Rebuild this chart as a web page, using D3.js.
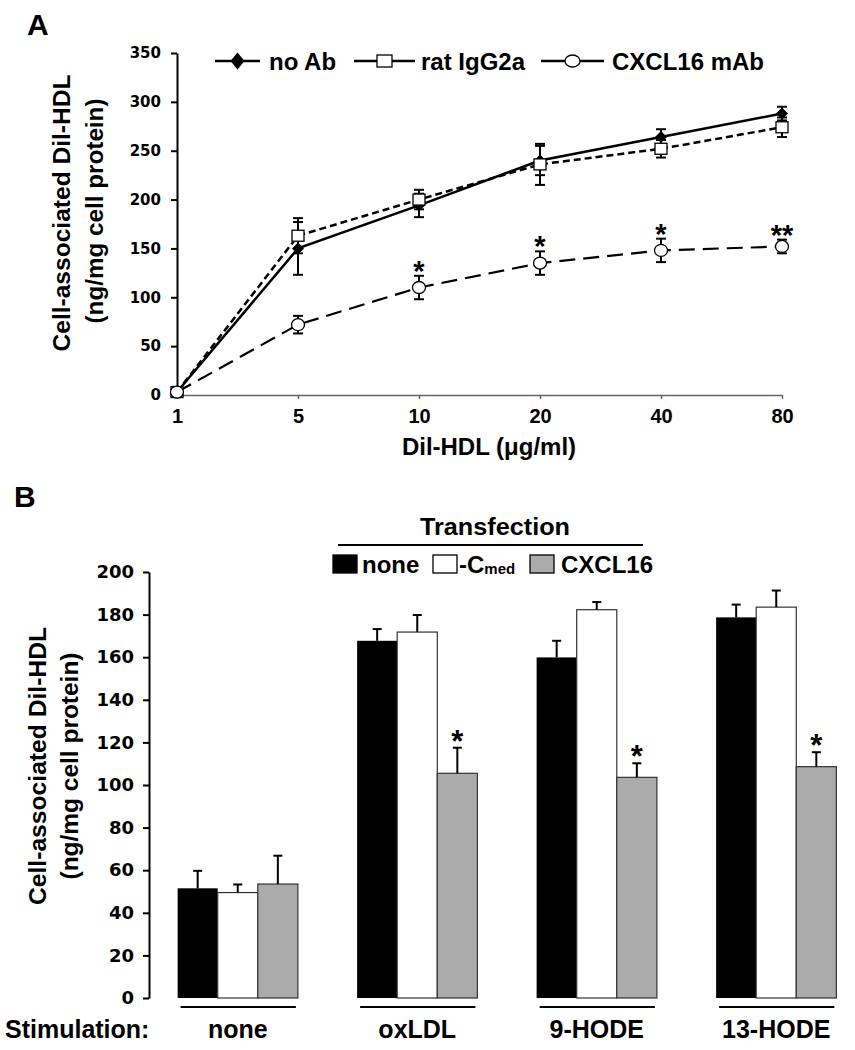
<!DOCTYPE html>
<html><head><meta charset="utf-8">
<script src="https://cdn.jsdelivr.net/npm/d3@7"></script>
<style>
body{margin:0;background:#fff;}
svg{display:block;}
text{font-family:"Liberation Sans",Arial,sans-serif;font-weight:bold;fill:#000;}
</style></head><body>
<svg id="c" width="855" height="1050"></svg>
<script>
// ---------- Panel A data ----------
const doses = ["1","5","10","20","40","80"];
const noAb = [3,150,194,240,264,288];
const noAbErr = [2,27,12,15,8,7];
const ratIgG = [3,163,200,236,252,274];
const ratIgGErr = [2,18,10,21,9,10];
const cxclAb = [3,72,110,135,148,152];
const cxclAbErr = [2,9,12,12,12,7];
const cxclSig = ["","","*","*","*","**"];
const yTicksA = [0,50,100,150,200,250,300,350];
const seriesA = ["no Ab","rat IgG2a","CXCL16 mAb"];

// ---------- Panel B data ----------
const stim = ["none","oxLDL","9-HODE","13-HODE"];
const transf = ["none","-C","CXCL16"];
const bNone = [51.5,167.7,159.9,178.7];
const bNoneErr = [8.2,5.5,7.8,6.0];
const bCmed = [49.5,171.8,182.3,183.5];
const bCmedErr = [3.8,8.0,3.6,7.8];
const bCx = [53.5,105.5,103.6,108.6];
const bCxErr = [13.3,12.0,6.6,6.8];
const bSig = ["","*","*","*"];
const yTicksB = [0,20,40,60,80,100,120,140,160,180,200];

const svg = d3.select("#c");
svg.append("rect").attr("width",855).attr("height",1050).attr("fill","#fff");

// ================= PANEL A =================
const gA = svg.append("g");
gA.append("text").attr("x",27).attr("y",35).attr("font-size",30).text("A");

const xA = d3.scalePoint().domain(doses).range([177,782]).padding(0);
const yA = d3.scaleLinear().domain([0,350]).range([395,53]);

const yAxA = gA.append("g").attr("transform","translate(177,0)")
  .call(d3.axisLeft(yA).tickValues(yTicksA).tickSize(6).tickSizeOuter(0).tickPadding(10));
yAxA.select(".domain").attr("stroke","#000").attr("stroke-width",2);
yAxA.selectAll(".tick line").attr("stroke","#000").attr("stroke-width",2);
yAxA.selectAll(".tick text").style("font-family","'DejaVu Sans',sans-serif").style("font-weight","bold").attr("font-size",15).attr("fill","#000");

const xAxA = gA.append("g").attr("transform","translate(0,395)")
  .call(d3.axisBottom(xA).tickSize(4).tickSizeOuter(0).tickPadding(10));
xAxA.select(".domain").attr("stroke","#666").attr("stroke-width",1.5);
xAxA.selectAll(".tick line").attr("stroke","#666").attr("stroke-width",1.5);
xAxA.selectAll(".tick text").attr("font-size",20).attr("fill","#000");

gA.append("text").attr("x",489).attr("y",455).attr("text-anchor","middle").attr("font-size",24).text("Dil-HDL (\u03bcg/ml)");
gA.append("text").attr("transform","translate(70,213) rotate(-90)").attr("text-anchor","middle")
  .attr("font-size",23).attr("textLength",277).attr("lengthAdjust","spacingAndGlyphs").text("Cell-associated Dil-HDL");
gA.append("text").attr("transform","translate(103,211) rotate(-90)").attr("text-anchor","middle")
  .attr("font-size",23).attr("textLength",225).attr("lengthAdjust","spacingAndGlyphs").text("(ng/mg cell protein)");

const lineA = d3.line().x((d,i)=>xA(doses[i])).y(d=>yA(d));
gA.append("path").datum(cxclAb).attr("d",lineA).attr("fill","none").attr("stroke","#000").attr("stroke-width",2.2).attr("stroke-dasharray","16,8");
gA.append("path").datum(ratIgG).attr("d",lineA).attr("fill","none").attr("stroke","#000").attr("stroke-width",2.5).attr("stroke-dasharray","7,4");
gA.append("path").datum(noAb).attr("d",lineA).attr("fill","none").attr("stroke","#000").attr("stroke-width",2.5);

function errA(vals, errs){
  const g = gA.append("g").attr("stroke","#000").attr("stroke-width",2);
  vals.forEach((v,i)=>{
    const x = xA(doses[i]);
    g.append("line").attr("x1",x).attr("x2",x).attr("y1",yA(v-errs[i])).attr("y2",yA(v+errs[i]));
    g.append("line").attr("x1",x-5).attr("x2",x+5).attr("y1",yA(v+errs[i])).attr("y2",yA(v+errs[i]));
    g.append("line").attr("x1",x-5).attr("x2",x+5).attr("y1",yA(v-errs[i])).attr("y2",yA(v-errs[i]));
  });
}
errA(noAb,noAbErr); errA(ratIgG,ratIgGErr); errA(cxclAb,cxclAbErr);

const diamond = (cx,cy,w,h)=>`M${cx},${cy-h/2}L${cx+w/2},${cy}L${cx},${cy+h/2}L${cx-w/2},${cy}Z`;
gA.append("g").selectAll("path").data(noAb).join("path")
  .attr("d",(d,i)=>diamond(xA(doses[i]),yA(d),12,12)).attr("fill","#000");
gA.append("g").selectAll("rect").data(ratIgG).join("rect")
  .attr("x",(d,i)=>xA(doses[i])-6).attr("y",d=>yA(d)-5.5).attr("width",12).attr("height",11)
  .attr("fill","#fff").attr("stroke","#000").attr("stroke-width",1.3);
gA.append("g").selectAll("ellipse").data(cxclAb).join("ellipse")
  .attr("cx",(d,i)=>xA(doses[i])).attr("cy",d=>yA(d)).attr("rx",6.5).attr("ry",6)
  .attr("fill","#fff").attr("stroke","#000").attr("stroke-width",1.3);

gA.append("g").selectAll("text").data(cxclSig).join("text")
  .attr("x",(d,i)=>xA(doses[i])).attr("y",(d,i)=>yA(cxclAb[i]+cxclAbErr[i])+5)
  .attr("text-anchor","middle").attr("font-size",29).text(d=>d);

const legA = gA.append("g");
const legItems = [
  {x1:215,x2:260,label:seriesA[0],tx:269,m:"d"},
  {x1:354,x2:415,label:seriesA[1],tx:421,m:"s"},
  {x1:541,x2:604,label:seriesA[2],tx:612,m:"c"}
];
legItems.forEach(it=>{
  const cy=61, cx=(it.x1+it.x2)/2;
  legA.append("line").attr("x1",it.x1).attr("x2",it.x2).attr("y1",cy).attr("y2",cy).attr("stroke","#000").attr("stroke-width",2.5);
  if(it.m==="d") legA.append("path").attr("d",diamond(cx,cy,14,17)).attr("fill","#000");
  if(it.m==="s") legA.append("rect").attr("x",cx-7.5).attr("y",cy-6).attr("width",15).attr("height",12).attr("fill","#fff").attr("stroke","#000").attr("stroke-width",1.3);
  if(it.m==="c") legA.append("ellipse").attr("cx",cx).attr("cy",cy).attr("rx",7.5).attr("ry",6).attr("fill","#fff").attr("stroke","#000").attr("stroke-width",1.3);
  legA.append("text").attr("x",it.tx).attr("y",cy+8.5).attr("font-size",24).text(it.label);
});

// ================= PANEL B =================
const gB = svg.append("g");
gB.append("text").attr("x",14).attr("y",507).attr("font-size",30).text("B");

const xB = d3.scaleBand().domain(stim).range([148,866]).paddingInner(0.33).paddingOuter(0.165);
const xSub = d3.scaleBand().domain(transf).range([0,xB.bandwidth()]).padding(0);
const yB = d3.scaleLinear().domain([0,200]).range([998,572]);

const yAxB = gB.append("g").attr("transform","translate(149,0)")
  .call(d3.axisLeft(yB).tickValues(yTicksB).tickSize(6).tickSizeOuter(0).tickPadding(9));
yAxB.select(".domain").attr("stroke","#000").attr("stroke-width",2);
yAxB.selectAll(".tick line").attr("stroke","#000").attr("stroke-width",2);
yAxB.selectAll(".tick text").style("font-family","'DejaVu Sans',sans-serif").style("font-weight","bold").attr("font-size",18).attr("fill","#000");

gB.append("text").attr("transform","translate(46,766) rotate(-90)").attr("text-anchor","middle")
  .attr("font-size",23).attr("textLength",278).attr("lengthAdjust","spacingAndGlyphs").text("Cell-associated Dil-HDL");
gB.append("text").attr("transform","translate(78,766) rotate(-90)").attr("text-anchor","middle")
  .attr("font-size",23).attr("textLength",227).attr("lengthAdjust","spacingAndGlyphs").text("(ng/mg cell protein)");

const seriesB = [
  {key:transf[0],vals:bNone,errs:bNoneErr,fill:"#000",stroke:"none"},
  {key:transf[1],vals:bCmed,errs:bCmedErr,fill:"#fff",stroke:"#333"},
  {key:transf[2],vals:bCx,errs:bCxErr,fill:"#ababab",stroke:"#333"}
];
seriesB.forEach(s=>{
  const g = gB.append("g");
  g.selectAll("rect").data(s.vals).join("rect")
    .attr("x",(d,i)=>xB(stim[i])+xSub(s.key)).attr("y",d=>yB(d))
    .attr("width",xSub.bandwidth()).attr("height",d=>yB(0)-yB(d))
    .attr("fill",s.fill).attr("stroke",s.stroke).attr("stroke-width",1.2);
  const ge = gB.append("g").attr("stroke","#000").attr("stroke-width",2);
  s.vals.forEach((v,i)=>{
    const x = xB(stim[i])+xSub(s.key)+xSub.bandwidth()/2;
    ge.append("line").attr("x1",x).attr("x2",x).attr("y1",yB(v)).attr("y2",yB(v+s.errs[i]));
    ge.append("line").attr("x1",x-4.5).attr("x2",x+4.5).attr("y1",yB(v+s.errs[i])).attr("y2",yB(v+s.errs[i]));
  });
});
gB.append("g").selectAll("text").data(bSig).join("text")
  .attr("x",(d,i)=>xB(stim[i])+xSub(transf[2])+xSub.bandwidth()/2)
  .attr("y",(d,i)=>yB(bCx[i]+bCxErr[i])+4)
  .attr("text-anchor","middle").attr("font-size",31).text(d=>d);

stim.forEach(s=>{
  const x0 = xB(s), x1 = xB(s)+xB.bandwidth();
  gB.append("line").attr("x1",x0+3).attr("x2",x1-2).attr("y1",1007).attr("y2",1007).attr("stroke","#000").attr("stroke-width",2);
  gB.append("text").attr("x",(x0+x1)/2).attr("y",1038).attr("text-anchor","middle").attr("font-size",25).text(s);
});
gB.append("text").attr("x",5).attr("y",1038).attr("font-size",25).text("Stimulation:");

gB.append("text").attr("x",495).attr("y",535).attr("text-anchor","middle").attr("font-size",23)
  .attr("textLength",150).attr("lengthAdjust","spacingAndGlyphs").text("Transfection");
gB.append("line").attr("x1",338).attr("x2",643).attr("y1",545).attr("y2",545).attr("stroke","#000").attr("stroke-width",2);
const legB = [
  {sx:333,fill:"#000",stroke:"#000",tx:362,label:transf[0]},
  {sx:433,fill:"#fff",stroke:"#000",tx:459,label:transf[1],sub:"med"},
  {sx:530,fill:"#ababab",stroke:"#000",tx:561,label:transf[2]}
];
legB.forEach(it=>{
  gB.append("rect").attr("x",it.sx).attr("y",555).attr("width",24).attr("height",18).attr("fill",it.fill).attr("stroke",it.stroke).attr("stroke-width",1.3);
  const t = gB.append("text").attr("x",it.tx).attr("y",573).attr("font-size",24);
  t.append("tspan").text(it.label);
  if(it.sub) t.append("tspan").attr("font-size",15).attr("dy",1).text(it.sub);
});
</script>
</body></html>
